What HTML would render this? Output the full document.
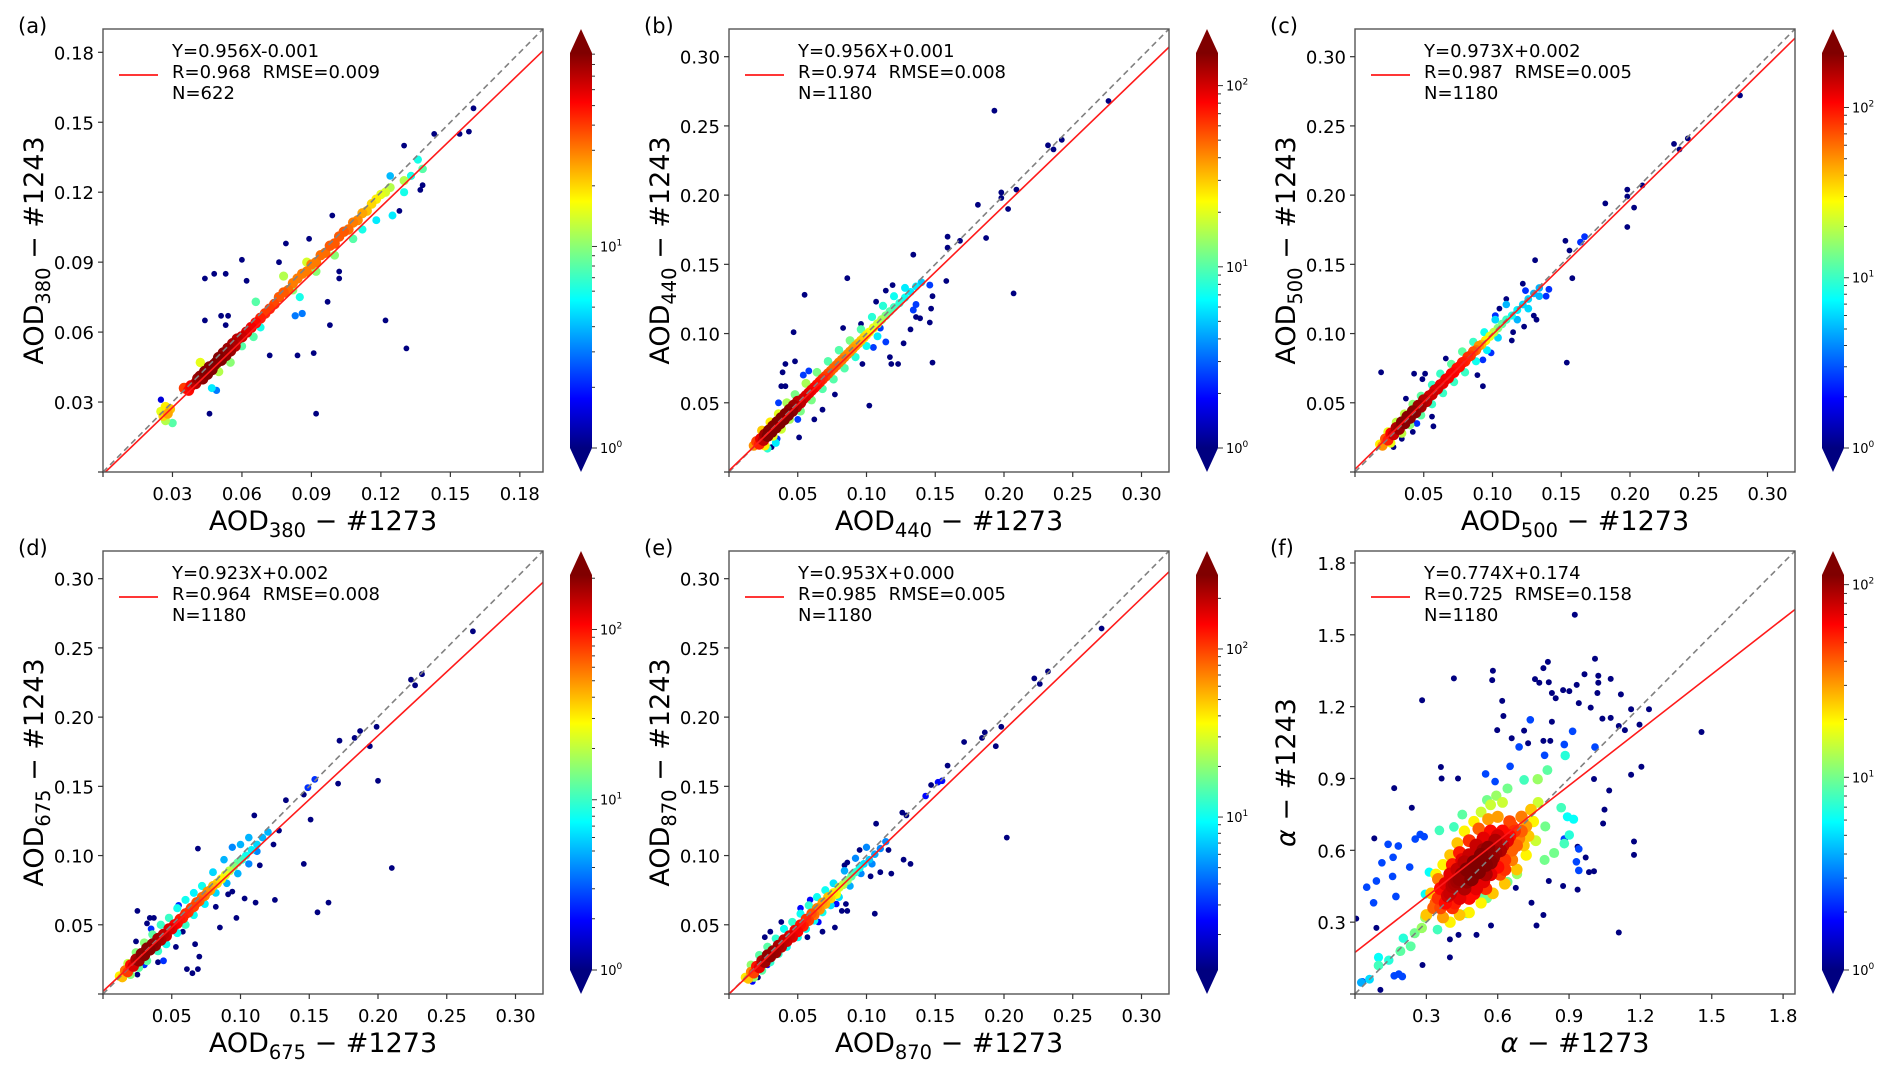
<!DOCTYPE html>
<html><head><meta charset="utf-8"><style>
html,body{margin:0;padding:0;background:#fff;}
svg{display:block;font-family:"DejaVu Sans","Liberation Sans",sans-serif;}
</style></head>
<body>
<svg id="fig" width="1892" height="1074" viewBox="0 0 1892 1074" xmlns="http://www.w3.org/2000/svg">
<defs>
<linearGradient id="jetGrad" x1="0" y1="1" x2="0" y2="0">
<stop offset="0" stop-color="#000080"/><stop offset="0.125" stop-color="#0000ff"/><stop offset="0.375" stop-color="#00ffff"/><stop offset="0.5" stop-color="#80ff80"/><stop offset="0.625" stop-color="#ffff00"/><stop offset="0.875" stop-color="#ff0000"/><stop offset="1" stop-color="#800000"/>
</linearGradient>
</defs>
</svg>
<script>
// ---- panel configuration / data ----
const panelLetters = ["(a)","(b)","(c)","(d)","(e)","(f)"];
const xSubs = ["380","440","500","675","870",""];
const axisMax = [0.19,0.32,0.32,0.32,0.32,1.85];
const tickLabels = [
 ["0.03","0.06","0.09","0.12","0.15","0.18"],
 ["0.05","0.10","0.15","0.20","0.25","0.30"],
 ["0.05","0.10","0.15","0.20","0.25","0.30"],
 ["0.05","0.10","0.15","0.20","0.25","0.30"],
 ["0.05","0.10","0.15","0.20","0.25","0.30"],
 ["0.3","0.6","0.9","1.2","1.5","1.8"]];
const slopes = [0.956,0.956,0.973,0.923,0.953,0.774];
const intercepts = [-0.001,0.001,0.002,0.002,0.000,0.174];
const eqText = ["Y=0.956X-0.001","Y=0.956X+0.001","Y=0.973X+0.002","Y=0.923X+0.002","Y=0.953X+0.000","Y=0.774X+0.174"];
const statText = ["R=0.968  RMSE=0.009","R=0.974  RMSE=0.008","R=0.987  RMSE=0.005","R=0.964  RMSE=0.008","R=0.985  RMSE=0.005","R=0.725  RMSE=0.158"];
const nText = ["N=622","N=1180","N=1180","N=1180","N=1180","N=1180"];
const cbLogMin = [0,0,0,0,0.09,0];
const cbLogMax = [1.96,2.18,2.32,2.32,2.44,2.05];

// core points [x, y, count]
const aCore = [[0.025,0.026,15],[0.026,0.024,20],[0.027,0.028,18],[0.028,0.025,25],[0.029,0.027,22],[0.027,0.022,12],[0.030,0.021,8],[0.025,0.031,1.5],
[0.035,0.036,40],[0.037,0.035,50],[0.038,0.037,55],[0.040,0.038,70],[0.041,0.040,80],[0.042,0.041,85],[0.043,0.040,85],[0.044,0.043,90],[0.045,0.042,90],[0.046,0.045,90],[0.047,0.044,90],[0.048,0.046,90],[0.049,0.047,90],[0.050,0.049,90],[0.051,0.048,90],[0.052,0.051,85],[0.053,0.050,85],[0.054,0.053,80],[0.055,0.052,80],[0.056,0.055,75],[0.057,0.054,70],[0.058,0.057,70],[0.060,0.058,65],[0.062,0.060,60],[0.064,0.062,55],[0.066,0.064,50],[0.068,0.066,45],[0.070,0.068,40],[0.072,0.070,40],[0.074,0.072,38],
[0.076,0.075,35],[0.078,0.077,35],[0.080,0.078,32],[0.082,0.081,30],[0.084,0.083,30],[0.086,0.085,30],[0.088,0.086,30],[0.090,0.089,30],[0.092,0.090,30],[0.094,0.093,32],[0.096,0.094,32],[0.098,0.097,35],[0.100,0.098,35],[0.102,0.101,35],[0.104,0.103,35],[0.106,0.104,32],[0.108,0.107,30],[0.110,0.108,28],[0.112,0.111,25],[0.114,0.112,22],[0.116,0.115,20],[0.118,0.117,18],[0.120,0.119,15],[0.122,0.120,14],[0.124,0.122,12],
[0.042,0.047,15],[0.050,0.043,12],[0.055,0.047,10],[0.060,0.054,8],[0.065,0.058,8],[0.068,0.062,6],[0.066,0.073,8],[0.078,0.084,12],[0.082,0.078,10],[0.085,0.075,6],[0.088,0.090,14],[0.092,0.086,10],[0.100,0.093,10],[0.108,0.100,8],[0.112,0.104,6],[0.118,0.108,5],[0.125,0.110,5],[0.130,0.120,6],[0.133,0.127,6],[0.136,0.134,6],[0.138,0.130,8],[0.124,0.127,4],[0.130,0.125,12],[0.047,0.036,5],[0.086,0.068,3],[0.083,0.067,3],[0.049,0.035,3]];
const aOut = [[0.044,0.083],[0.048,0.085],[0.053,0.085],[0.060,0.091],[0.062,0.082],[0.044,0.065],[0.051,0.067],[0.054,0.067],[0.053,0.063],[0.046,0.025],[0.079,0.098],[0.076,0.090],[0.089,0.100],[0.099,0.110],[0.072,0.050],[0.084,0.050],[0.091,0.051],[0.097,0.073],[0.098,0.063],[0.102,0.086],[0.102,0.083],[0.092,0.025],[0.122,0.065],[0.131,0.053],[0.130,0.140],[0.143,0.145],[0.137,0.121],[0.138,0.123],[0.128,0.112],[0.154,0.145],[0.158,0.146],[0.160,0.156]];
const aBlue = [];

const bCore = [[0.018,0.019,40],[0.020,0.022,60],[0.022,0.020,70],[0.023,0.024,90],[0.025,0.023,110],[0.026,0.027,130],[0.028,0.026,150],[0.029,0.030,160],[0.031,0.029,170],[0.032,0.033,170],[0.034,0.032,170],[0.035,0.036,170],[0.037,0.035,170],[0.038,0.039,160],[0.040,0.038,160],[0.041,0.042,150],[0.043,0.041,150],[0.044,0.045,140],[0.046,0.044,140],[0.047,0.048,130],[0.049,0.047,120],[0.050,0.051,110],[0.052,0.050,110],[0.054,0.053,100],[0.056,0.055,95],[0.058,0.057,90],[0.060,0.059,85],[0.062,0.061,80],[0.064,0.063,75],[0.066,0.065,70],[0.068,0.067,65],[0.070,0.069,60],[0.072,0.071,55],[0.074,0.073,50],[0.076,0.075,50],[0.078,0.077,48],[0.080,0.079,45],[0.082,0.081,45],[0.084,0.083,42],[0.086,0.085,40],[0.088,0.087,40],[0.090,0.089,38],[0.092,0.091,35],[0.094,0.093,32],[0.096,0.095,30],[0.098,0.097,28],[0.100,0.099,25],[0.102,0.101,22],[0.105,0.104,20],[0.108,0.107,18],[0.111,0.110,15],[0.114,0.113,12],[0.117,0.116,10],[0.120,0.119,9],[0.124,0.122,8],[0.128,0.126,7],[0.132,0.130,6],[0.136,0.134,6],[0.140,0.137,5],
[0.024,0.030,30],[0.030,0.036,25],[0.036,0.042,20],[0.042,0.050,15],[0.048,0.056,12],[0.056,0.064,15],[0.064,0.072,12],[0.072,0.080,10],[0.080,0.088,10],[0.088,0.095,12],[0.096,0.103,10],[0.104,0.112,8],[0.112,0.120,8],[0.120,0.127,7],[0.128,0.133,6],[0.026,0.019,25],[0.032,0.026,20],[0.038,0.031,18],[0.044,0.038,15],[0.052,0.044,12],[0.060,0.052,12],[0.068,0.060,10],[0.076,0.067,10],[0.084,0.075,10],[0.092,0.083,8],[0.100,0.091,7],[0.108,0.098,6],[0.028,0.017,8],[0.034,0.021,6]];
const bOut = [[0.193,0.261],[0.276,0.268],[0.232,0.236],[0.236,0.233],[0.242,0.240],[0.198,0.202],[0.198,0.198],[0.209,0.204],[0.203,0.190],[0.181,0.193],[0.187,0.169],[0.207,0.129],[0.159,0.170],[0.159,0.162],[0.168,0.167],[0.158,0.138],[0.134,0.157],[0.086,0.140],[0.055,0.128],[0.047,0.101],[0.048,0.080],[0.041,0.078],[0.039,0.072],[0.038,0.062],[0.041,0.062],[0.102,0.048],[0.051,0.025],[0.031,0.018],[0.077,0.056],[0.062,0.038],[0.096,0.107],[0.083,0.104],[0.107,0.123],[0.114,0.131],[0.119,0.135],[0.117,0.083],[0.118,0.078],[0.123,0.078],[0.127,0.093],[0.132,0.103],[0.146,0.108],[0.147,0.118],[0.148,0.127],[0.148,0.079],[0.139,0.111],[0.136,0.112],[0.097,0.078],[0.068,0.045]];
const bBlue = [[0.110,0.104],[0.105,0.090],[0.114,0.094],[0.134,0.117],[0.136,0.121],[0.146,0.135],[0.050,0.038],[0.054,0.070],[0.058,0.073],[0.036,0.050],[0.035,0.024]];

const cCore = [[0.018,0.020,30],[0.020,0.019,50],[0.022,0.024,70],[0.024,0.023,90],[0.026,0.028,110],[0.028,0.027,140],[0.030,0.032,160],[0.032,0.031,180],[0.034,0.036,200],[0.036,0.035,200],[0.038,0.040,200],[0.040,0.039,200],[0.042,0.044,200],[0.044,0.043,190],[0.046,0.048,180],[0.048,0.047,170],[0.050,0.052,160],[0.052,0.051,150],[0.054,0.055,140],[0.056,0.056,140],[0.058,0.059,130],[0.060,0.060,130],[0.062,0.063,120],[0.064,0.064,120],[0.066,0.067,115],[0.068,0.068,110],[0.070,0.071,110],[0.072,0.072,105],[0.074,0.075,100],[0.076,0.076,100],[0.078,0.079,95],[0.080,0.080,90],[0.082,0.083,85],[0.084,0.084,80],[0.086,0.087,70],[0.088,0.088,60],[0.090,0.091,50],[0.092,0.092,40],[0.095,0.095,30],[0.098,0.098,25],[0.101,0.101,20],[0.104,0.104,15],[0.107,0.107,12],[0.110,0.110,10],[0.114,0.113,8],[0.118,0.117,7],[0.122,0.121,6],[0.126,0.125,6],[0.130,0.129,5],[0.134,0.133,5],
[0.024,0.029,25],[0.030,0.036,20],[0.036,0.042,20],[0.042,0.049,15],[0.048,0.055,12],[0.056,0.063,10],[0.062,0.071,10],[0.070,0.078,12],[0.078,0.087,12],[0.086,0.094,10],[0.094,0.101,8],[0.102,0.110,6],[0.110,0.121,5],[0.026,0.021,25],[0.034,0.028,20],[0.040,0.034,15],[0.048,0.041,12],[0.056,0.049,10],[0.064,0.057,10],[0.072,0.065,10],[0.080,0.072,10],[0.088,0.080,8],[0.096,0.088,7],[0.104,0.097,6],[0.118,0.110,5],[0.126,0.118,6],[0.134,0.127,5]];
const cOut = [[0.280,0.272],[0.232,0.237],[0.236,0.233],[0.242,0.241],[0.198,0.204],[0.198,0.199],[0.209,0.207],[0.203,0.191],[0.182,0.194],[0.198,0.177],[0.153,0.167],[0.156,0.160],[0.158,0.140],[0.131,0.153],[0.154,0.079],[0.122,0.136],[0.110,0.125],[0.105,0.118],[0.123,0.105],[0.115,0.101],[0.114,0.095],[0.130,0.113],[0.132,0.110],[0.019,0.072],[0.043,0.071],[0.051,0.071],[0.049,0.067],[0.066,0.082],[0.089,0.070],[0.093,0.062],[0.037,0.053],[0.056,0.040],[0.057,0.033],[0.042,0.029],[0.034,0.024],[0.028,0.018]];
const cBlue = [[0.164,0.166],[0.167,0.170],[0.141,0.132],[0.102,0.113],[0.099,0.086],[0.093,0.081],[0.139,0.127],[0.124,0.131],[0.045,0.035]];

const dCore = [[0.012,0.013,30],[0.014,0.012,40],[0.016,0.017,60],[0.018,0.016,80],[0.020,0.021,100],[0.022,0.020,130],[0.024,0.025,160],[0.026,0.024,180],[0.028,0.029,200],[0.030,0.028,200],[0.032,0.033,200],[0.034,0.032,200],[0.036,0.036,190],[0.038,0.035,180],[0.040,0.040,170],[0.042,0.039,160],[0.044,0.043,150],[0.046,0.042,140],[0.048,0.047,130],[0.050,0.047,120],[0.052,0.050,110],[0.054,0.051,100],[0.056,0.054,95],[0.058,0.055,90],[0.060,0.058,85],[0.062,0.059,80],[0.064,0.062,75],[0.066,0.063,75],[0.068,0.066,70],[0.070,0.067,65],[0.072,0.070,60],[0.074,0.071,55],[0.076,0.074,50],[0.078,0.075,45],[0.080,0.078,40],[0.083,0.080,35],[0.086,0.083,30],[0.089,0.086,25],[0.092,0.089,20],[0.095,0.092,15],[0.098,0.095,12],[0.101,0.097,10],[0.104,0.100,8],[0.108,0.104,7],[0.112,0.108,6],[0.116,0.113,5],[0.120,0.117,5],
[0.018,0.022,20],[0.024,0.030,15],[0.030,0.037,15],[0.036,0.043,12],[0.042,0.050,10],[0.048,0.055,10],[0.054,0.062,8],[0.060,0.068,8],[0.066,0.073,7],[0.072,0.078,8],[0.080,0.088,6],[0.088,0.097,5],[0.094,0.106,4],[0.100,0.108,5],[0.106,0.113,5],[0.020,0.014,15],[0.026,0.019,12],[0.032,0.024,12],[0.040,0.031,10],[0.046,0.036,8],[0.054,0.044,8],[0.060,0.050,10],[0.066,0.057,8],[0.074,0.065,7],[0.082,0.073,6],[0.090,0.080,5],[0.098,0.087,5],[0.106,0.094,4],[0.112,0.103,4]];
const dOut = [[0.269,0.262],[0.224,0.227],[0.227,0.223],[0.232,0.231],[0.172,0.183],[0.183,0.185],[0.187,0.190],[0.199,0.193],[0.194,0.179],[0.171,0.152],[0.200,0.154],[0.210,0.091],[0.146,0.094],[0.151,0.126],[0.128,0.118],[0.133,0.140],[0.146,0.144],[0.110,0.129],[0.124,0.108],[0.114,0.093],[0.069,0.105],[0.125,0.068],[0.111,0.066],[0.103,0.069],[0.164,0.066],[0.156,0.059],[0.097,0.055],[0.085,0.048],[0.094,0.074],[0.091,0.072],[0.082,0.063],[0.025,0.060],[0.034,0.055],[0.037,0.055],[0.032,0.051],[0.024,0.038],[0.040,0.023],[0.025,0.014],[0.061,0.018],[0.065,0.015],[0.069,0.018],[0.067,0.036],[0.070,0.027],[0.053,0.034],[0.058,0.045]];
const dBlue = [[0.154,0.155],[0.149,0.149],[0.030,0.021],[0.035,0.047],[0.055,0.064],[0.044,0.024]];

const eCore = [[0.012,0.012,40],[0.014,0.011,50],[0.016,0.016,70],[0.018,0.015,100],[0.020,0.020,130],[0.022,0.019,160],[0.024,0.024,200],[0.026,0.023,230],[0.028,0.028,250],[0.030,0.027,250],[0.032,0.031,240],[0.034,0.030,230],[0.036,0.035,220],[0.038,0.034,200],[0.040,0.039,190],[0.042,0.038,180],[0.044,0.042,170],[0.046,0.041,160],[0.048,0.046,150],[0.050,0.045,140],[0.052,0.050,130],[0.054,0.049,120],[0.056,0.054,110],[0.058,0.053,100],[0.060,0.058,90],[0.062,0.057,80],[0.064,0.062,70],[0.066,0.061,65],[0.068,0.066,60],[0.070,0.065,55],[0.072,0.070,50],[0.074,0.069,45],[0.076,0.073,40],[0.078,0.072,35],[0.080,0.077,30],[0.083,0.079,25],[0.086,0.082,20],[0.089,0.085,15],[0.092,0.088,12],[0.095,0.091,10],[0.098,0.094,8],[0.102,0.097,7],[0.106,0.101,6],[0.110,0.105,5],[0.114,0.110,5],
[0.016,0.021,20],[0.022,0.028,15],[0.028,0.034,15],[0.034,0.040,12],[0.040,0.047,10],[0.046,0.052,12],[0.052,0.058,10],[0.058,0.064,12],[0.064,0.070,10],[0.070,0.075,10],[0.076,0.080,8],[0.084,0.089,6],[0.092,0.098,5],[0.100,0.106,5],[0.018,0.012,20],[0.024,0.017,15],[0.030,0.023,12],[0.036,0.029,12],[0.042,0.034,10],[0.050,0.041,10],[0.056,0.047,10],[0.062,0.053,10],[0.068,0.059,10],[0.074,0.064,8],[0.080,0.070,8],[0.088,0.078,6],[0.096,0.087,5],[0.104,0.094,5]];
const eOut = [[0.271,0.264],[0.222,0.228],[0.226,0.224],[0.232,0.233],[0.171,0.182],[0.184,0.185],[0.186,0.189],[0.198,0.193],[0.194,0.179],[0.202,0.113],[0.159,0.165],[0.147,0.151],[0.126,0.131],[0.129,0.129],[0.107,0.123],[0.127,0.097],[0.132,0.094],[0.116,0.104],[0.110,0.088],[0.103,0.085],[0.118,0.087],[0.106,0.058],[0.095,0.104],[0.084,0.093],[0.086,0.095],[0.085,0.065],[0.086,0.060],[0.082,0.060],[0.077,0.048],[0.068,0.045],[0.057,0.041],[0.026,0.041],[0.030,0.045],[0.038,0.052],[0.021,0.012]];
const eBlue = [[0.152,0.153],[0.155,0.154],[0.143,0.143],[0.052,0.062],[0.059,0.068],[0.028,0.021],[0.017,0.009],[0.065,0.052],[0.078,0.065]];

const fCore = [[0.33,0.36,40],[0.35,0.40,50],[0.36,0.44,60],[0.38,0.38,60],[0.38,0.46,70],[0.40,0.42,80],[0.40,0.50,70],[0.41,0.36,50],[0.42,0.46,90],[0.43,0.52,80],[0.44,0.40,70],[0.44,0.48,100],[0.45,0.56,70],[0.46,0.44,90],[0.47,0.52,110],[0.48,0.58,80],[0.48,0.40,60],[0.49,0.48,110],[0.50,0.55,115],[0.51,0.62,80],[0.51,0.44,70],[0.52,0.51,115],[0.53,0.58,110],[0.54,0.65,70],[0.54,0.47,70],[0.55,0.54,110],[0.56,0.61,105],[0.57,0.68,60],[0.57,0.50,70],[0.58,0.57,100],[0.59,0.64,90],[0.60,0.53,60],[0.61,0.60,90],[0.62,0.68,60],[0.63,0.56,50],[0.64,0.64,70],[0.65,0.72,45],[0.66,0.60,40],[0.67,0.68,50],[0.69,0.65,35],[0.70,0.74,35],[0.72,0.70,30],[0.74,0.77,25],[0.75,0.72,20],[0.77,0.80,15],[0.30,0.33,25],[0.32,0.42,25],[0.34,0.50,20],[0.37,0.54,20],[0.40,0.58,25],[0.43,0.63,25],[0.46,0.68,20],[0.50,0.72,20],[0.53,0.76,15],[0.57,0.79,15],[0.62,0.80,15],[0.40,0.30,20],[0.44,0.33,25],[0.48,0.34,20],[0.53,0.38,20],[0.58,0.42,25],[0.63,0.46,25],[0.68,0.52,25],[0.72,0.58,20],[0.76,0.64,15],[0.80,0.70,10],[0.37,0.32,30],[0.35,0.48,35],
[0.39,0.41,75],[0.41,0.45,85],[0.43,0.47,95],[0.45,0.50,100],[0.47,0.47,100],[0.46,0.55,85],[0.50,0.50,110],[0.52,0.56,110],[0.54,0.60,95],[0.55,0.50,90],[0.57,0.55,105],[0.59,0.59,95],[0.60,0.66,75],[0.62,0.62,80],[0.63,0.52,50],[0.65,0.66,60],[0.66,0.70,45],[0.68,0.62,40],[0.70,0.68,40],[0.42,0.38,55],[0.36,0.36,45],[0.34,0.38,40],[0.50,0.42,60],[0.55,0.44,50],[0.61,0.50,45],[0.41,0.54,55],[0.44,0.59,55],[0.48,0.64,50],[0.52,0.69,40],[0.56,0.73,30],[0.60,0.74,30],[0.73,0.66,25],[0.71,0.62,25],[0.66,0.56,35],
[0.355,0.683,8],[0.416,0.698,8],[0.451,0.749,9],[0.555,0.810,10],[0.594,0.828,12],[0.641,0.858,10],[0.711,0.894,8],[0.768,0.897,12],[0.809,0.935,9],[0.884,0.996,7],[0.867,0.778,8],[0.893,0.740,6],[0.919,0.730,6],[0.901,0.664,7],[0.880,0.628,8],[0.837,0.589,10],[0.797,0.560,10],[0.681,0.501,12],[0.641,0.468,10],[0.555,0.400,10],[0.529,0.404,9],[0.471,0.337,9],[0.347,0.269,8],[0.295,0.320,12],[0.251,0.254,10],[0.191,0.179,9],[0.142,0.141,7],[0.099,0.119,8],[0.099,0.153,6],[0.061,0.062,5],[0.026,0.048,4],[0.281,0.276,12],[0.234,0.199,9],[0.203,0.233,7],[0.312,0.509,6],[0.295,0.417,6],[0.333,0.356,10]];
const fOut = [[0.924,1.584],[1.457,1.094],[0.416,1.318],[0.282,1.227],[0.165,0.860],[0.239,0.778],[0.081,0.650],[0.005,0.315],[0.090,0.276],[0.284,0.121],[0.399,0.153],[0.107,0.017],[0.361,0.948],[0.364,0.900],[0.433,0.900],[0.577,1.311],[0.580,1.350],[0.619,1.224],[0.624,1.161],[0.598,1.102],[0.659,1.068],[0.763,0.286],[0.742,0.381],[0.792,0.330],[1.109,0.257],[1.173,0.637],[1.173,0.581],[1.204,0.949],[1.161,0.916],[1.005,0.898],[1.069,0.850],[1.049,0.770],[1.043,0.712],[1.005,0.513],[0.984,0.509],[0.970,0.570],[0.936,0.615],[0.815,0.472],[0.875,0.451],[0.676,0.443],[0.711,1.100],[0.728,1.047],[0.757,1.315],[0.775,1.300],[0.811,1.387],[0.792,1.361],[0.815,1.302],[0.828,1.257],[0.844,1.235],[0.875,1.269],[0.932,1.291],[0.941,1.215],[0.965,1.335],[0.991,1.196],[1.019,1.257],[1.009,1.400],[1.023,1.329],[1.023,1.300],[1.040,1.150],[1.075,1.153],[1.075,1.316],[1.118,1.251],[1.236,1.189],[1.161,1.189],[1.196,1.125],[1.109,1.119],[1.135,1.102],[0.828,1.137],[0.792,1.057],[0.821,1.057],[0.901,1.265],[0.511,0.247],[0.435,0.247],[0.399,0.228],[0.572,0.286],[0.936,0.436]];
const fBlue = [[0.090,0.472],[0.078,0.381],[0.049,0.446],[0.113,0.548],[0.139,0.625],[0.182,0.618],[0.160,0.571],[0.158,0.491],[0.172,0.407],[0.230,0.530],[0.253,0.647],[0.274,0.666],[0.291,0.657],[0.199,0.073],[0.184,0.083],[0.165,0.076],[0.031,0.051],[0.549,0.919],[0.589,0.887],[0.652,0.951],[0.690,1.032],[0.737,1.145],[0.797,0.997],[0.880,1.042],[0.915,1.097],[1.009,1.031],[0.941,0.606],[0.931,0.552],[0.941,0.516],[0.880,0.647]];

const coreSets = [aCore,bCore,cCore,dCore,eCore,fCore];
const outSets = [aOut,bOut,cOut,dOut,eOut,fOut];
const blueSets = [aBlue,bBlue,cBlue,dBlue,eBlue,fBlue];

// ---- drawing ----
const NS = "http://www.w3.org/2000/svg";
const svg = document.getElementById("fig");
const PW = 440, PH = 443;
const lefts = [103,729,1355];
const tops = [29,551];
function mk(tag, attrs, parent){
  const e = document.createElementNS(NS, tag);
  for (const k in attrs) e.setAttribute(k, attrs[k]);
  (parent||svg).appendChild(e);
  return e;
}
function jet(t){
  t = Math.max(0, Math.min(1, t));
  const c = v => Math.round(255*Math.max(0, Math.min(1, v)));
  return "rgb(" + c(1.5-Math.abs(4*t-3)) + "," + c(1.5-Math.abs(4*t-2)) + "," + c(1.5-Math.abs(4*t-1)) + ")";
}
function addLabel(parent, x, y, main, sub, rest, size, rotate, italicMain){
  const t = mk("text", {x:x, y:y, "font-size":size, "text-anchor":"middle", fill:"#000"}, parent);
  if (rotate) t.setAttribute("transform", "rotate(-90 " + x + " " + y + ")");
  const s1 = mk("tspan", {}, t); s1.textContent = main;
  if (italicMain) s1.setAttribute("font-style", "italic");
  if (sub){
    const s2 = mk("tspan", {"font-size": size*0.72, dy: 7}, t); s2.textContent = sub;
    const s3 = mk("tspan", {dy: -7}, t); s3.textContent = rest;
  } else {
    const s3 = mk("tspan", {}, t); s3.textContent = rest;
  }
  return t;
}

for (let p = 0; p < 6; p++){
  const L = lefts[p % 3], T = tops[Math.floor(p / 3)];
  const max = axisMax[p];
  const sx = v => L + v / max * PW;
  const sy = v => T + PH - v / max * PH;
  const g = mk("g", {});
  
  

  const lab = mk("text", {x: L - 85, y: T + 4, "font-size": 21}, g);
  lab.textContent = panelLetters[p];
  
  

  const cp = mk("clipPath", {id: "clip" + p}, g);
  mk("rect", {x: L, y: T, width: PW, height: PH}, cp);
  const plot = mk("g", {"clip-path": "url(#clip" + p + ")"}, g);
  
  

  const pts = [];
  outSets[p].forEach(q => pts.push([q[0], q[1], 1]));
  blueSets[p].forEach(q => pts.push([q[0], q[1], 2.5]));
  coreSets[p].forEach(q => pts.push(q));
  pts.sort((u, v) => u[2] - v[2]);
  const lmin = cbLogMin[p], lmax = cbLogMax[p];
  pts.forEach(q => {
    const t = Math.max(0, Math.min(1, (Math.log10(q[2]) - lmin) / (lmax - lmin)));
    const r = (p === 5 ? 3.0 + 4.2 * t : 2.9 + 3.0 * t);
    const c = mk("circle", {cx: sx(q[0]).toFixed(1), cy: sy(q[1]).toFixed(1), r: r.toFixed(2), fill: jet(t)}, plot);
    
    
  });

  const one = mk("line", {x1: sx(0), y1: sy(0), x2: sx(max), y2: sy(max), stroke: "#808080", "stroke-width": 1.6, "stroke-dasharray": "6,4"}, plot);
  
  
  const reg = mk("line", {x1: sx(0), y1: sy(intercepts[p]), x2: sx(max), y2: sy(slopes[p]*max + intercepts[p]), stroke: "#ff1a1a", "stroke-width": 1.6}, plot);
  
  

  const fr = mk("rect", {x: L, y: T, width: PW, height: PH, fill: "none", stroke: "#555", "stroke-width": 1.4}, g);
  
  

  const tv = [0].concat(tickLabels[p].map(Number));
  const tl = [""].concat(tickLabels[p]);
  tv.forEach((v, i) => {
    mk("line", {x1: sx(v), y1: T + PH, x2: sx(v), y2: T + PH + 5, stroke: "#333", "stroke-width": 1.2}, g);
    mk("line", {x1: L, y1: sy(v), x2: L - 5, y2: sy(v), stroke: "#333", "stroke-width": 1.2}, g);
    if (tl[i]){
      const xt = mk("text", {x: sx(v), y: T + PH + 28, "font-size": 18, "text-anchor": "middle"}, g);
      xt.textContent = tl[i];
      
      
      const yt = mk("text", {x: L - 9, y: sy(v) + 7, "font-size": 18, "text-anchor": "end"}, g);
      yt.textContent = tl[i];
      
      
    }
  });

  const isAlpha = p === 5;
  const xl = isAlpha ? addLabel(g, L + PW/2, T + PH + 58, "α", "", " − #1273", 27, false, true)
                     : addLabel(g, L + PW/2, T + PH + 58, "AOD", xSubs[p], " − #1273", 27, false, false);
  
  
  const yl = isAlpha ? addLabel(g, L - 60, T + PH/2, "α", "", " − #1243", 27, true, true)
                     : addLabel(g, L - 60, T + PH/2, "AOD", xSubs[p], " − #1243", 27, true, false);
  
  

  const lg = mk("g", {}, g);
  
  
  mk("line", {x1: L + 16, y1: T + 46, x2: L + 55, y2: T + 46, stroke: "#ff1a1a", "stroke-width": 1.8}, lg);
  [eqText[p], statText[p], nText[p]].forEach((s, i) => {
    const t = mk("text", {x: L + 69, y: T + 28 + i*21, "font-size": 18}, lg);
    t.setAttribute("style", "white-space:pre");
    t.textContent = s;
    
    
  });

  const cx0 = L + 467, cw = 22, tri = 24;
  const bTop = T + tri, bBot = T + PH - tri, bH = bBot - bTop;
  const cb = mk("g", {}, g);
  
  
  mk("polygon", {points: (cx0 + cw/2) + "," + T + " " + cx0 + "," + bTop + " " + (cx0 + cw) + "," + bTop, fill: "#800000"}, cb);
  mk("rect", {x: cx0, y: bTop, width: cw, height: bH, fill: "url(#jetGrad)"}, cb);
  mk("polygon", {points: (cx0 + cw/2) + "," + (T + PH) + " " + cx0 + "," + bBot + " " + (cx0 + cw) + "," + bBot, fill: "#000080"}, cb);
  const cby = lv => bBot - (lv - lmin) / (lmax - lmin) * bH;
  for (let dec = 0; dec <= 2; dec++){
    for (let k = 1; k <= 9; k++){
      const lv = dec + Math.log10(k);
      if (lv < lmin - 1e-6 || lv > lmax + 1e-6) continue;
      const yy = cby(lv);
      mk("line", {x1: cx0 + cw, y1: yy, x2: cx0 + cw + (k === 1 ? 5 : 3), y2: yy, stroke: "#333", "stroke-width": 1}, cb);
      if (k === 1){
        const t = mk("text", {x: cx0 + cw + 8, y: yy + 5, "font-size": 13}, cb);
        const a = mk("tspan", {}, t); a.textContent = "10";
        const b = mk("tspan", {"font-size": 9, dy: -6}, t); b.textContent = String(dec);
        
        
      }
    }
  }
}
</script>
</body></html>
